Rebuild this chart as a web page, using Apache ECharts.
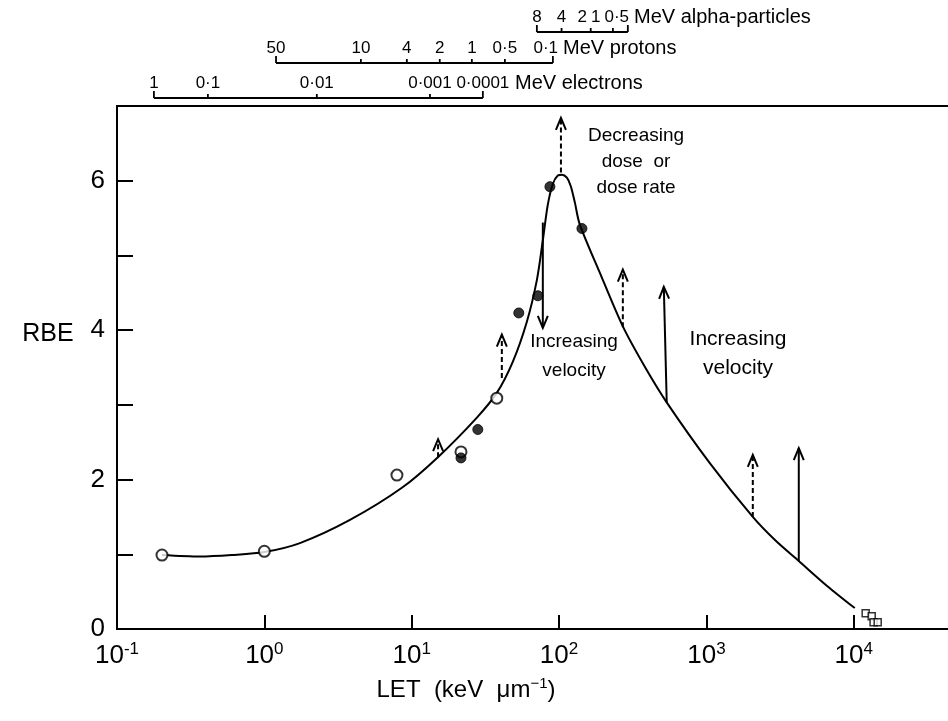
<!DOCTYPE html>
<html>
<head>
<meta charset="utf-8">
<script src="https://cdn.jsdelivr.net/npm/echarts@6/dist/echarts.min.js"></script>
<style>
  html, body { margin: 0; padding: 0; background: #fff; }
  #main { width: 948px; height: 721px; }
</style>
</head>
<body>
<div id="main"></div>
<script>
// RBE curve
var curveLET = [0.202, 0.366, 0.6, 1.0, 1.744, 3.81, 8.58, 15.06, 27.7, 37.8, 48.6, 60.4, 70.7, 77.7, 83.9, 90.8, 98.1, 104.5, 113, 120, 128, 138, 189, 271, 382, 539, 1055, 2065, 2957, 4236, 6560, 10160];
var curveRBE = [0.99, 0.97, 0.99, 1.03, 1.15, 1.46, 1.89, 2.30, 2.83, 3.16, 3.58, 4.11, 4.67, 5.21, 5.68, 5.96, 6.07, 6.08, 6.04, 5.93, 5.71, 5.42, 4.77, 4.05, 3.51, 3.03, 2.22, 1.50, 1.18, 0.91, 0.58, 0.28];

// measured points
var openLET = [0.202, 1.0, 7.94, 21.6, 37.8];
var openRBE = [0.99, 1.04, 2.06, 2.37, 3.09];
var filledLET = [21.6, 28.1, 53.3, 71.8, 86.7, 143];
var filledRBE = [2.29, 2.67, 4.23, 4.46, 5.92, 5.36];
var squareLET = [12050, 13240, 13630, 14540];
var squareRBE = [0.21, 0.17, 0.09, 0.09];

// arrows (start -> end), 1 = dashed
var arrowFromLET = [15.1, 40.9, 77.6, 103, 271, 538, 2065, 4236];
var arrowFromRBE = [2.30, 3.36, 5.44, 6.11, 4.04, 3.03, 1.50, 0.91];
var arrowToLET = [15.1, 40.9, 77.6, 103, 271, 514, 2065, 4236];
var arrowToRBE = [2.54, 3.94, 4.03, 6.84, 4.81, 4.58, 2.33, 2.42];
var arrowDashed = [1, 1, 0, 1, 1, 0, 1, 0];

// energy scales above the plot (energy label -> LET where it sits)
var electronE = ['1', '0·1', '0·01', '0·001', '0·0001'];
var electronLET = [0.178, 0.414, 2.27, 13.3, 30.4];
var protonE = ['50', '10', '4', '2', '1', '0·5', '0·1'];
var protonLET = [1.20, 4.52, 9.27, 15.5, 25.6, 42.9, 90.8];
var alphaE = ['8', '4', '2', '1', '0·5'];
var alphaLET = [70.7, 104, 164, 232, 293];

var FONT = "'Liberation Sans', Arial, sans-serif";

function pairs(xs, ys) {
  return xs.map(function (x, i) { return [x, ys[i]]; });
}

var arrowData = arrowFromLET.map(function (v, i) {
  return [v, arrowFromRBE[i], arrowToLET[i], arrowToRBE[i], arrowDashed[i]];
});

var chart = echarts.init(document.getElementById('main'), null, {renderer: 'canvas'});

var option = {
  backgroundColor: '#fff',
  animation: false,
  grid: {
    left: 117, right: -2, top: 106, bottom: 92,
    show: true, borderColor: '#000', borderWidth: 2,
    outerBoundsMode: 'none'
  },
  xAxis: {
    type: 'log',
    logBase: 10,
    min: 0.1,
    max: 45000,
    axisLine: { show: true, lineStyle: { color: '#000', width: 2 } },
    axisTick: { show: true, inside: true, length: 14, lineStyle: { color: '#000', width: 2 } },
    minorTick: { show: false },
    splitLine: { show: false },
    axisLabel: {
      margin: 12,
      showMaxLabel: false,
      formatter: function (v) {
        var e = Math.log10(v);
        if (Math.abs(e - Math.round(e)) > 1e-6) return '';
        return '{b|10}{s|' + Math.round(e) + '}';
      },
      rich: {
        b: { fontFamily: FONT, fontSize: 26, color: '#000', lineHeight: 30 },
        s: { fontFamily: FONT, fontSize: 17, color: '#000', verticalAlign: 'top', lineHeight: 30 }
      }
    }
  },
  yAxis: {
    type: 'value',
    min: 0,
    max: 7,
    interval: 1,
    axisLine: { show: true, lineStyle: { color: '#000', width: 2 } },
    axisTick: { show: true, inside: true, length: 16, lineStyle: { color: '#000', width: 2 } },
    splitLine: { show: false },
    axisLabel: {
      margin: 12,
      fontFamily: FONT,
      fontSize: 26,
      color: '#000',
      formatter: function (v) { return v % 2 === 0 && v < 7 ? String(v) : ''; }
    }
  },
  series: [
    {
      name: 'curve',
      type: 'line',
      data: pairs(curveLET, curveRBE),
      smooth: 0.3,
      symbol: 'none',
      lineStyle: { color: '#000', width: 2 },
      z: 2
    },
    {
      name: 'arrows',
      type: 'custom',
      encode: { x: [0, 2], y: [1, 3] },
      data: arrowData,
      renderItem: function (params, api) {
        var p0 = api.coord([api.value(0), api.value(1)]);
        var p1 = api.coord([api.value(2), api.value(3)]);
        var dashed = api.value(4) === 1;
        var dx = p1[0] - p0[0], dy = p1[1] - p0[1];
        var len = Math.sqrt(dx * dx + dy * dy);
        var ux = dx / len, uy = dy / len;
        var hl = 12, hw = 5;
        var bx = p1[0] - ux * hl, by = p1[1] - uy * hl;
        return {
          type: 'group',
          children: [
            {
              type: 'line',
              shape: { x1: p0[0], y1: p0[1], x2: p1[0], y2: p1[1] },
              style: { stroke: '#000', lineWidth: 2, lineDash: dashed ? [5, 3] : null }
            },
            {
              type: 'polyline',
              shape: { points: [[bx - uy * hw, by + ux * hw], [p1[0], p1[1]], [bx + uy * hw, by - ux * hw]] },
              style: { stroke: '#000', fill: null, lineWidth: 2 }
            }
          ]
        };
      },
      z: 3
    },
    {
      name: 'open',
      type: 'scatter',
      data: pairs(openLET, openRBE),
      symbol: 'circle',
      symbolSize: 11,
      itemStyle: { color: '#fff', borderColor: '#000', borderWidth: 2 },
      z: 4
    },
    {
      name: 'filled',
      type: 'scatter',
      data: pairs(filledLET, filledRBE),
      symbol: 'circle',
      symbolSize: 10,
      itemStyle: { color: '#000', borderColor: '#000', borderWidth: 1 },
      z: 5
    },
    {
      name: 'squares',
      type: 'scatter',
      data: pairs(squareLET, squareRBE),
      symbol: 'rect',
      symbolSize: 7,
      itemStyle: { color: '#fff', borderColor: '#000', borderWidth: 1.5 },
      z: 4
    }
  ]
};

chart.setOption(option);

// text width helper, so crowded labels on the energy scales can be pushed left
var measureCtx = document.createElement('canvas').getContext('2d');
function textWidth(txt, size, family) {
  measureCtx.font = size + 'px ' + family;
  return measureCtx.measureText(txt).width;
}

// energy scales on top, placed with the LET axis
function scaleGraphic(labels, lets, lineY, labelY, unitText, unitX) {
  var xs = lets.map(function (v) { return chart.convertToPixel({ xAxisIndex: 0 }, v); });
  var els = [];
  els.push({
    type: 'line',
    shape: { x1: xs[0], y1: lineY, x2: xs[xs.length - 1], y2: lineY },
    style: { stroke: '#000', lineWidth: 1.8 }
  });
  // label centres, pushed left when they would run into the next one
  var size = 17;
  var widths = labels.map(function (t) { return textWidth(t, size, FONT); });
  var cx = xs.slice();
  var limit = unitX - 5;
  for (var i = cx.length - 1; i >= 0; i--) {
    if (cx[i] + widths[i] / 2 > limit) cx[i] = limit - widths[i] / 2;
    limit = cx[i] - widths[i] / 2 - 4;
  }
  xs.forEach(function (x, i) {
    var end = i === 0 || i === xs.length - 1;
    els.push({
      type: 'line',
      shape: { x1: x, y1: lineY, x2: x, y2: lineY - (end ? 7 : 4) },
      style: { stroke: '#000', lineWidth: 1.8 }
    });
    els.push({
      type: 'text',
      x: cx[i],
      y: labelY,
      style: {
        text: labels[i], fontFamily: FONT, fontSize: size, fill: '#000',
        align: 'center', verticalAlign: 'middle'
      }
    });
  });
  els.push({
    type: 'text', x: unitX, y: labelY,
    style: { text: unitText, fontFamily: FONT, fontSize: 20, fill: '#000', align: 'left', verticalAlign: 'middle' }
  });
  return els;
}

var graphics = []
  .concat(scaleGraphic(electronE, electronLET, 98, 83, 'MeV electrons', 515))
  .concat(scaleGraphic(protonE, protonLET, 63, 48, 'MeV protons', 563))
  .concat(scaleGraphic(alphaE, alphaLET, 32, 17, 'MeV alpha-particles', 634));

graphics.push(
  {
    type: 'text', x: 636, y: 162,
    style: { text: 'Decreasing\ndose  or\ndose rate', fontFamily: FONT, fontSize: 19, lineHeight: 26, fill: '#000', align: 'center', verticalAlign: 'middle' }
  },
  {
    type: 'text', x: 574, y: 356,
    style: { text: 'Increasing\nvelocity', fontFamily: FONT, fontSize: 19, lineHeight: 29, fill: '#000', align: 'center', verticalAlign: 'middle' }
  },
  {
    type: 'text', x: 738, y: 354,
    style: { text: 'Increasing\nvelocity', fontFamily: FONT, fontSize: 21, lineHeight: 29, fill: '#000', align: 'center', verticalAlign: 'middle' }
  },
  {
    type: 'text', x: 48, y: 334,
    style: { text: 'RBE', fontFamily: FONT, fontSize: 25, fill: '#000', align: 'center', verticalAlign: 'middle' }
  },
  {
    type: 'text', x: 466, y: 690,
    style: {
      text: '{a|LET  (keV  μm}{s|−1}{a|)}',
      align: 'center', verticalAlign: 'middle',
      rich: {
        a: { fontFamily: FONT, fontSize: 24, fill: '#000', lineHeight: 28 },
        s: { fontFamily: FONT, fontSize: 15, fill: '#000', verticalAlign: 'top', lineHeight: 28 }
      }
    }
  }
);

chart.setOption({ graphic: graphics });
</script>
</body>
</html>
